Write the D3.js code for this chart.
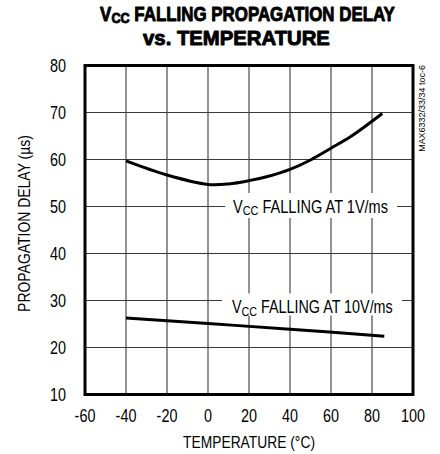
<!DOCTYPE html>
<html><head><meta charset="utf-8">
<script src="https://cdn.jsdelivr.net/npm/d3@7"></script>
<style>
body{margin:0;background:#fff;}
text{font-family:"Liberation Sans",Arial,sans-serif;fill:#000;}
</style></head>
<body><svg id="c" width="440" height="454"></svg>
<script>
const xTicks = [-60,-40,-20,0,20,40,60,80,100];
const yTicks = [10,20,30,40,50,60,70,80];
const temp1 = [-40,-20,0,10,20,30,40,50,60,70,85];
const delay1 = [59.7,56.7,54.7,54.8,55.5,56.5,57.9,59.9,62.4,65.0,69.8];
const temp2 = [-40,0,40,86];
const delay2 = [26.3,25.1,23.9,22.4];
const label1 = ["V","CC"," FALLING AT 1V/ms"];
const label2 = ["V","CC"," FALLING AT 10V/ms"];
const titleParts = ["V","CC"," FALLING PROPAGATION DELAY"];
const title2 = "vs. TEMPERATURE";

const svg = d3.select("#c");
const x = d3.scaleLinear().domain([-60,100]).range([85,413]);
const y = d3.scaleLinear().domain([10,80]).range([394.5,65.5]);

// condensed text helper: draws text at (0,0) and scales it horizontally
function ctext(parent, ax, ay, anchor, opts){
  const g = parent.append("g");
  const t = g.append("text").attr("text-anchor",anchor).attr("font-size",opts.size);
  if(opts.weight) t.attr("font-weight",opts.weight);
  if(opts.stroke) t.attr("stroke","#000").attr("stroke-width",opts.stroke).attr("stroke-linejoin","round");
  if(opts.parts){
    t.append("tspan").text(opts.parts[0]);
    t.append("tspan").attr("font-size",opts.size*opts.subScale).attr("dy",opts.subDy).text(opts.parts[1]);
    t.append("tspan").attr("dy",-opts.subDy).text(opts.parts[2]);
  } else t.text(opts.text);
  let sx = opts.sx || 0.8;
  if(opts.width){ sx = opts.width / t.node().getComputedTextLength(); }
  g.attr("transform",`translate(${ax},${ay})${opts.rot?` rotate(${opts.rot})`:""} scale(${sx},1)`);
  return g;
}

// grid
svg.append("g").selectAll("line").data(xTicks.slice(1,-1)).join("line")
  .attr("x1",d=>x(d)).attr("x2",d=>x(d)).attr("y1",y(80)).attr("y2",y(10))
  .attr("stroke","#3a3a3a").attr("stroke-width",1.1);
svg.append("g").selectAll("line").data(yTicks.slice(1,-1)).join("line")
  .attr("y1",d=>y(d)).attr("y2",d=>y(d)).attr("x1",x(-60)).attr("x2",x(100))
  .attr("stroke","#3a3a3a").attr("stroke-width",1.1);

// labels with white backgrounds
svg.append("rect").attr("x",225).attr("y",193).attr("width",172).attr("height",25).attr("fill","#fff");
ctext(svg, 310.5, 212.7, "middle", {size:18, parts:label1, subScale:0.75, subDy:2.5, width:155});
svg.append("rect").attr("x",222).attr("y",293.5).attr("width",180).attr("height",22).attr("fill","#fff");
ctext(svg, 312.3, 313, "middle", {size:18, parts:label2, subScale:0.75, subDy:2.5, width:161});

// frame
svg.append("rect").attr("x",x(-60)).attr("y",y(80)).attr("width",x(100)-x(-60)).attr("height",y(10)-y(80))
  .attr("fill","none").attr("stroke","#000").attr("stroke-width",3);

// curves
const line = d3.line().x(d=>x(d[0])).y(d=>y(d[1])).curve(d3.curveCatmullRom);
svg.append("path").attr("d",line(d3.zip(temp1,delay1))).attr("fill","none").attr("stroke","#000").attr("stroke-width",3);
svg.append("path").attr("d",line(d3.zip(temp2,delay2))).attr("fill","none").attr("stroke","#000").attr("stroke-width",3);

// tick labels
xTicks.forEach(v=>ctext(svg, x(v), 421.7, "middle", {size:18, text:String(v), sx:0.8}));
yTicks.forEach(v=>ctext(svg, 66, y(v)+6, "end", {size:18, text:String(v), sx:0.8}));

// axis titles
ctext(svg, 249, 448, "middle", {size:16.5, text:"TEMPERATURE (°C)", width:132});
ctext(svg, 30, 223.5, "middle", {size:16.5, text:"PROPAGATION DELAY (µs)", width:177, rot:-90});
ctext(svg, 425, 65, "end", {size:9.5, text:"MAX6332/33/34 toc-6", width:87, rot:-90});

// title
ctext(svg, 247.5, 21, "middle", {size:20, weight:"bold", stroke:0.9, parts:titleParts, subScale:0.75, subDy:1.5, width:295});
ctext(svg, 236.5, 45, "middle", {size:20, weight:"bold", stroke:0.9, text:title2, width:187});
</script></body></html>
